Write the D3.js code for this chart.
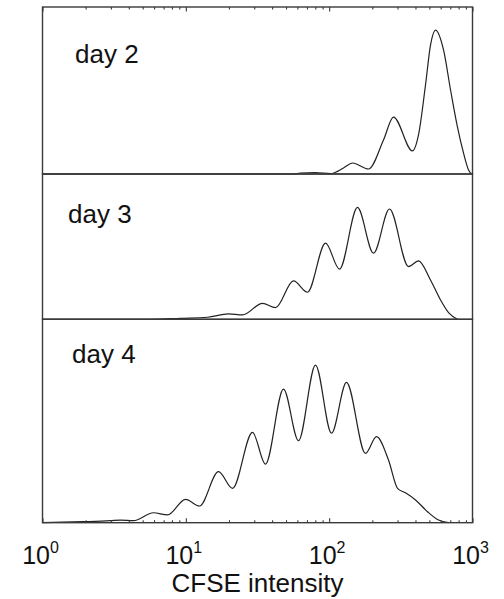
<!DOCTYPE html>
<html>
<head>
<meta charset="utf-8">
<script src="https://cdn.jsdelivr.net/npm/d3@7"></script>
<style>
  html, body { margin: 0; padding: 0; background: #fff; }
  svg { display: block; }
  text { font-family: "Liberation Sans", Arial, Helvetica, sans-serif; fill: #111; }
</style>
</head>
<body>
<svg id="chart" width="504" height="599"></svg>
<script>
// CFSE dilution histograms: [intensity, relative cell count (fraction of panel height)]
const day2 = [
  [1, 0], [53.7, 0], [63.1, 0.005], [80.3, 0.008], [102, 0.002],
  [125.9, 0.036], [145.4, 0.066], [188.2, 0.030], [239.4, 0.204],
  [281.1, 0.341], [381.3, 0.138], [420, 0.234], [470, 0.533],
  [509.3, 0.772], [551.8, 0.862], [627.9, 0.743], [702.9, 0.503],
  [785.6, 0.281], [865.4, 0.126], [938, 0.024], [984, 0]
];
const day3 = [
  [1, 0], [5.67, 0], [9.18, 0.007], [14.17, 0.014], [19.85, 0.037],
  [24.86, 0.030], [34.26, 0.110], [42.23, 0.080], [56.39, 0.264],
  [70.6, 0.186], [94.3, 0.524], [118.1, 0.345], [157.6, 0.770],
  [203.9, 0.455], [263.6, 0.759], [357.7, 0.363], [420.1, 0.402],
  [509.3, 0.271], [598.1, 0.133], [680.2, 0.046], [786.2, 0]
];
const day4 = [
  [1, 0], [1.93, 0.005], [2.98, 0.010], [3.50, 0.013], [4.31, 0.010],
  [5.95, 0.049], [7.45, 0.038], [9.95, 0.115], [12.46, 0.082],
  [16.9, 0.251], [21.17, 0.169], [29.18, 0.444], [35.96, 0.288],
  [48.02, 0.657], [61.11, 0.403], [80.29, 0.775], [103.8, 0.440],
  [132.1, 0.690], [179.3, 0.341], [213.9, 0.423], [259.4, 0.308],
  [299.9, 0.169], [340.8, 0.147], [400.4, 0.112], [485.4, 0.054],
  [579.2, 0.013], [680.2, 0]
];
const panelLabels = ["day 2", "day 3", "day 4"];
const majorTicks = [1, 10, 100, 1000];
const tickExponents = ["0", "1", "2", "3"];
const xTitle = "CFSE intensity";

const series = [day2, day3, day4];

// layout
const left = 42.5, right = 472.5;
const panelEdges = [7, 174, 319.3, 522.7];
const labelPos = [[75, 63], [68, 223], [72, 363]];
const stroke = "#3a3a3a";

const svg = d3.select("#chart");
svg.append("rect").attr("width", 504).attr("height", 599).attr("fill", "#fff");

const x = d3.scaleLog().domain([1, 1000]).range([left, right]);

const minorTicks = [];
for (let d = 1; d < 1000; d *= 10) {
  for (let m = 2; m <= 9; m++) minorTicks.push(d * m);
}

// panels with curves
series.forEach((data, i) => {
  const top = panelEdges[i], bottom = panelEdges[i + 1];
  const y = d3.scaleLinear().domain([0, 1]).range([bottom, top]);
  const g = svg.append("g");

  const line = d3.line()
    .x(d => x(d[0]))
    .y(d => y(d[1]))
    .curve(d3.curveMonotoneX);

  g.append("path")
    .datum(data)
    .attr("d", line)
    .attr("fill", "none")
    .attr("stroke", "#222")
    .attr("stroke-width", 1.2)
    .attr("stroke-linejoin", "round");

  g.append("rect")
    .attr("x", left).attr("y", top)
    .attr("width", right - left).attr("height", bottom - top)
    .attr("fill", "none")
    .attr("stroke", stroke)
    .attr("stroke-width", 1.4);

  g.append("text")
    .attr("x", labelPos[i][0]).attr("y", labelPos[i][1])
    .attr("font-size", 26)
    .text(panelLabels[i]);
});

// ticks drawn inward on the top and bottom edges
function styleTicks(sel) {
  sel.select(".domain").remove();
  sel.selectAll(".tick line").attr("stroke", stroke).attr("stroke-width", 1.1);
  sel.selectAll(".tick text").remove();
}
svg.append("g").attr("transform", `translate(0,${panelEdges[0]})`)
  .call(d3.axisTop(x).tickValues(majorTicks).tickSize(-4.5).tickFormat(""))
  .call(styleTicks);
svg.append("g").attr("transform", `translate(0,${panelEdges[0]})`)
  .call(d3.axisTop(x).tickValues(minorTicks).tickSize(-2.5).tickFormat(""))
  .call(styleTicks);

const bottomY = panelEdges[3];
svg.append("g").attr("transform", `translate(0,${bottomY})`)
  .call(d3.axisBottom(x).tickValues(majorTicks).tickSize(-4.5).tickFormat(""))
  .call(styleTicks);
svg.append("g").attr("transform", `translate(0,${bottomY})`)
  .call(d3.axisBottom(x).tickValues(minorTicks).tickSize(-2.5).tickFormat(""))
  .call(styleTicks);

// tick labels as powers of ten
const labels = svg.append("g");
majorTicks.forEach((v, i) => {
  const t = labels.append("text")
    .attr("x", x(v) - 2)
    .attr("y", 564)
    .attr("text-anchor", "middle")
    .attr("font-size", 25);
  t.append("tspan").text("10");
  t.append("tspan").attr("font-size", 16).attr("dy", -11).text(tickExponents[i]);
});

// axis title
svg.append("text")
  .attr("x", (left + right) / 2)
  .attr("y", 592)
  .attr("text-anchor", "middle")
  .attr("font-size", 26)
  .text(xTitle);
</script>
</body>
</html>
